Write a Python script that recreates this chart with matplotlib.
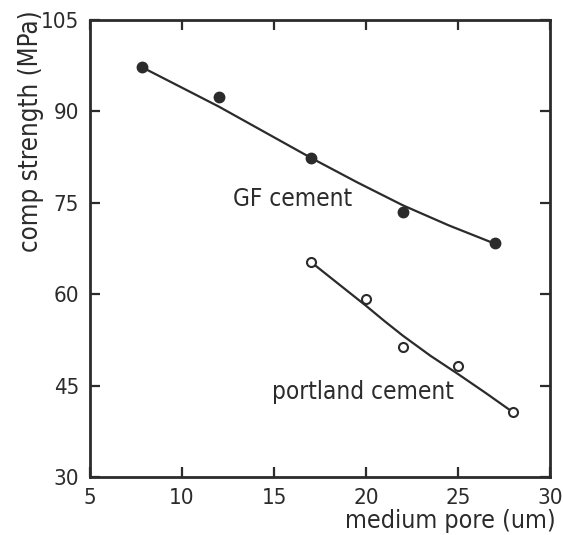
import numpy as np
import matplotlib
matplotlib.use('Agg')
import matplotlib.pyplot as plt

# measured points
gf_x = [7.8, 12, 17, 22, 27]
gf_y = [97.3, 92.4, 82.3, 73.5, 68.4]
pc_x = [17, 20, 22, 25, 28]
pc_y = [65.3, 59.2, 51.3, 48.3, 40.6]

# hand-drawn trend lines
gf_line_x = [7.8, 10, 12, 14.5, 17, 19.5, 22, 24.5, 27]
gf_line_y = [97.3, 93.9, 90.8, 86.6, 82.4, 78.4, 74.6, 71.3, 68.3]
pc_line_x = [17, 18.5, 20, 21, 22, 23.5, 25, 26.5, 28]
pc_line_y = [65.3, 61.7, 58.1, 55.6, 53.2, 49.9, 46.9, 43.8, 40.6]

x_ticks = [5, 10, 15, 20, 25, 30]
y_ticks = [30, 45, 60, 75, 90, 105]

ink = '#2b2b2b'
plt.rcParams['font.family'] = ['DejaVu Sans']
plt.rcParams['font.stretch'] = 'condensed'

fig = plt.figure(figsize=(5.63, 5.35), dpi=100)
ax = fig.add_axes([0.16, 0.1084, 0.817, 0.854])

ax.plot(gf_line_x, gf_line_y, color=ink, lw=1.6)
ax.plot(pc_line_x, pc_line_y, color=ink, lw=1.6)
ax.plot(gf_x, gf_y, 'o', color=ink, ms=7.5)
ax.plot(pc_x, pc_y, 'o', mfc='white', mec=ink, mew=1.5, ms=6.5)

ax.set_xlim(5, 30)
ax.set_ylim(30, 105)
ax.set_xticks(x_ticks)
ax.set_yticks(y_ticks)
ax.tick_params(direction='in', length=7.5, width=1.6, colors=ink, labelsize=16,
               top=True, right=True, pad=8)
for s in ax.spines.values():
    s.set_linewidth(2)
    s.set_color(ink)

ax.text(12.75, 74.5, 'GF cement', fontsize=17.5, color=ink, va='baseline', ha='left')
ax.text(14.9, 42.8, 'portland cement', fontsize=17.5, color=ink, va='baseline', ha='left')

ax.text(-0.128, 1.022, 'comp strength (MPa)', rotation=90, transform=ax.transAxes,
        fontsize=18.5, color=ink, va='top', ha='center')
ax.text(1.013, -0.1116, 'medium pore (um)', transform=ax.transAxes,
        fontsize=18, color=ink, va='baseline', ha='right')

fig.savefig('out.png', dpi=100)
